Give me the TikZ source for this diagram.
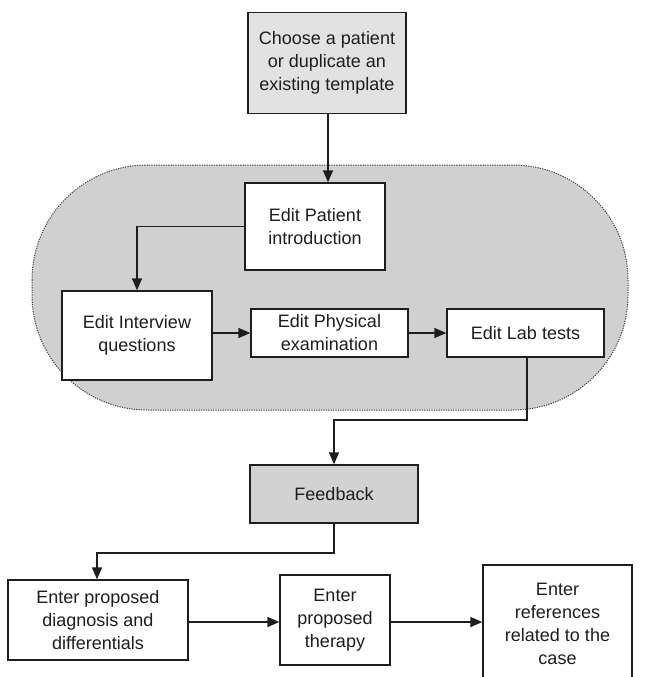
\documentclass[tikz,border=0pt]{standalone}
\usepackage{fontspec}
\setmainfont{Liberation Sans}
\usetikzlibrary{arrows.meta}
\definecolor{regiongray}{RGB}{208,208,208}
\definecolor{topgray}{RGB}{226,226,226}
\definecolor{fbgray}{RGB}{210,210,210}
\definecolor{ink}{RGB}{30,30,30}
\begin{document}
\begin{tikzpicture}[x=1pt,y=-1pt,
  box/.style={draw=ink, line width=1.4pt, fill=white, align=center,
    font=\fontsize{18}{23}\selectfont, inner sep=0pt, text=ink},
  conn/.style={draw=ink, line width=1.5pt, -{Triangle[length=12pt,width=10pt]}},
  region/.style={fill=regiongray, draw=black!75, line width=1pt,
    dash pattern=on 1.2pt off 1.2pt, rounded corners=115pt},
]
\clip (0,0) rectangle (648,677);
\fill[white] (0,0) rectangle (648,677);

% grouped region
\draw[region] (32,165) rectangle (628,410);

% nodes
\node[box, fill=topgray, minimum width=158pt, minimum height=101pt] (choose) at (327,63)
  {Choose a patient\\or duplicate an\\existing template};
\node[box, minimum width=140pt, minimum height=87pt] (patient) at (315,226.5)
  {Edit Patient\\introduction};
\node[box, minimum width=150pt, minimum height=89pt] (interview) at (137,335.5)
  {Edit Interview\\questions};
\node[box, minimum width=157pt, minimum height=48pt] (physical) at (329.5,333)
  {Edit Physical\\examination};
\node[box, minimum width=157pt, minimum height=48pt] (lab) at (525.5,333)
  {Edit Lab tests};
\node[box, fill=fbgray, minimum width=168pt, minimum height=58pt] (feedback) at (334,494)
  {Feedback};
\node[box, minimum width=180pt, minimum height=80pt] (diag) at (98,620)
  {Enter proposed\\diagnosis and\\differentials};
\node[box, minimum width=110pt, minimum height=90pt] (therapy) at (335,620)
  {Enter\\proposed\\therapy};
\node[box, minimum width=149pt, minimum height=118pt] (refs) at (557.5,624)
  {Enter\\references\\related to the\\case};

% helper coordinates
\coordinate (c1) at (328,114);
\coordinate (j1) at (527,420);
\coordinate (j2) at (334,420);
\coordinate (j3) at (334,553);
\coordinate (j4) at (97,553);

% connectors
\draw[conn] (choose.south -| c1) -- (patient.north -| c1);
\draw[conn] (patient.west) -| (interview.north);
\draw[conn] (physical.west -| interview.east) -- (physical.west);
\draw[conn] (physical.east) -- (lab.west);
\draw[conn] (lab.south -| j1) -- (j1) -- (j2) -- (feedback.north -| j2);
\draw[conn] (feedback.south -| j3) -- (j3) -- (j4) -- (diag.north -| j4);
\draw[conn] (diag.east |- 0,622) -- (therapy.west |- 0,622);
\draw[conn] (therapy.east |- 0,622) -- (refs.west |- 0,622);
\end{tikzpicture}
\end{document}
